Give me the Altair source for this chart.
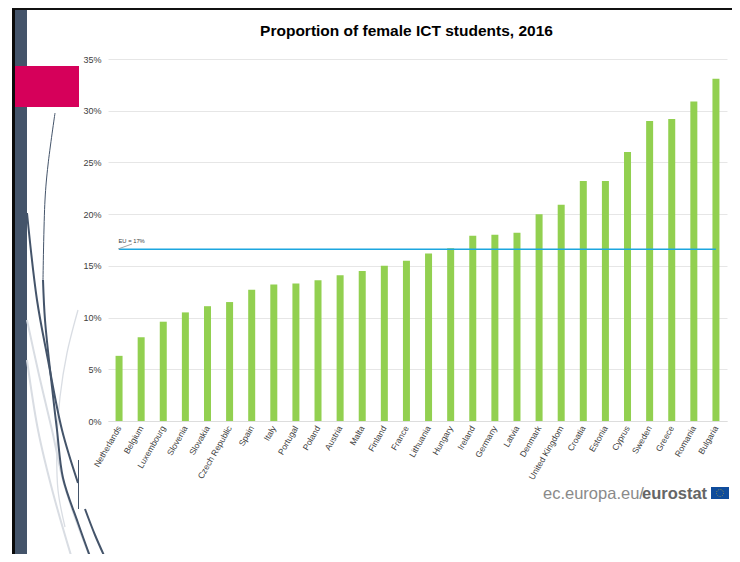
import altair as alt
import pandas as pd

countries = ["Netherlands","Belgium","Luxembourg","Slovenia","Slovakia","Czech Republic","Spain","Italy","Portugal","Poland","Austria","Malta","Finland","France","Lithuania","Hungary","Ireland","Germany","Latvia","Denmark","United Kingdom","Croatia","Estonia","Cyprus","Sweden","Greece","Romania","Bulgaria"]
shares = [6.3,8.1,9.6,10.5,11.1,11.5,12.7,13.2,13.3,13.6,14.1,14.5,15.0,15.5,16.2,16.7,17.9,18.0,18.2,20.0,20.9,23.2,23.2,26.0,29.0,29.2,30.9,33.1]
eu_value = 16.6
eu_ends = ["Netherlands","Bulgaria"]

FONT = "Liberation Sans"
DARK = "#44546A"
LIGHT = "#D9DDE3"

# decorative curves of the slide background: (x, y) on the page
curve_a1 = [(27,213),(37,300),(48,360),(62,430),(78,483)]
curve_a2 = [(85,509),(95,535),(107,562)]
curve_b1 = [(55,113),(48,165),(45,200),(43,280)]
curve_b2 = [(43,280),(45,320),(52,387),(57,430),(63,478),(78,523),(92,562)]
curve_l1 = [(27,320),(39,375),(52,430),(63,480),(77,523),(92,562)]
curve_l2 = [(27,360),(38,430),(53,493),(73,562)]
curve_l3 = [(78,310),(67,353),(60,397),(57,440),(58,490),(65,527)]
sliver = [(78.5,460),(78.5,509)]
eu_leader = [(118,249),(132,244)]
top_line = [(12,9),(740,9)]

X_PAGE = alt.Scale(domain=[108,727], range=[0,619])
Y_PAGE = alt.Scale(domain=[59,421], range=[0,362])

def frame(points):
    return pd.DataFrame(points, columns=["px","py"]).assign(o=range(len(points)))

def path(points, color, width):
    return alt.Chart(frame(points)).mark_line(color=color, strokeWidth=width, clip=False, interpolate="catmull-rom").encode(
        x=alt.X("px:Q", scale=X_PAGE, axis=None),
        y=alt.Y("py:Q", scale=Y_PAGE, axis=None),
        order="o:Q")

def box(x0, x1, y0, y1, color):
    d = pd.DataFrame({"a":[x0],"b":[x1],"c":[y0],"d":[y1]})
    return alt.Chart(d).mark_rect(color=color, clip=False).encode(
        x=alt.X("a:Q", scale=X_PAGE, axis=None), x2="b:Q",
        y=alt.Y("c:Q", scale=Y_PAGE, axis=None), y2="d:Q")

def label(x, y, s, size, color, weight="normal", align="left"):
    d = pd.DataFrame({"px":[x],"py":[y],"s":[s]})
    return alt.Chart(d).mark_text(align=align, baseline="alphabetic", fontSize=size, color=color, fontWeight=weight, font=FONT).encode(
        x=alt.X("px:Q", scale=X_PAGE, axis=None),
        y=alt.Y("py:Q", scale=Y_PAGE, axis=None),
        text="s:N")

bars_df = pd.DataFrame({"country":countries,"share":shares})
X_BAND = alt.Scale(domain=countries, paddingInner=0, paddingOuter=0)
Y_VAL = alt.Scale(domain=[0,35], nice=False)

bars = alt.Chart(bars_df).mark_bar(color="#92D050", width=7).encode(
    x=alt.X("country:N", sort=None, scale=X_BAND, title=None,
            axis=alt.Axis(labelAngle=300, labelAlign="right", labelBaseline="middle", labelFontSize=8.5,
                          labelFont=FONT, labelColor="#404040", labelPadding=5, ticks=False,
                          domainColor="#DDDDDD", labelOverlap=False, grid=False)),
    y=alt.Y("share:Q", scale=Y_VAL, title=None,
            axis=alt.Axis(values=[0,5,10,15,20,25,30,35], labelExpr="datum.value + '%'", labelFontSize=9,
                          labelFont=FONT, labelColor="#404040", labelPadding=7, ticks=False, domain=False,
                          grid=True, gridColor="#E6E6E6", gridWidth=1)))

eu_line = alt.Chart(pd.DataFrame({"country":eu_ends,"share":[eu_value,eu_value]})).mark_line(color="#1CA6DF", strokeWidth=1.6).encode(
    x=alt.X("country:N", sort=None, scale=X_BAND, axis=None),
    y=alt.Y("share:Q", scale=Y_VAL, axis=None))

stars = alt.Chart(pd.DataFrame({"px":[720],"py":[493]})).mark_point(shape="circle", size=50, color="#C9B32E", strokeWidth=1, strokeDash=[1,1.4], filled=False).encode(
    x=alt.X("px:Q", scale=X_PAGE, axis=None),
    y=alt.Y("py:Q", scale=Y_PAGE, axis=None))

layers = [
    bars,
    path(top_line, "#111111", 2),
    box(12,15,9,562,"#0A0A0A"),
    box(15,27,10,562,DARK),
    path(curve_l2, LIGHT, 2),
    path(curve_l1, LIGHT, 2),
    path(curve_l3, LIGHT, 1.3),
    path(curve_b1, DARK, 1),
    path(curve_b2, DARK, 2),
    path(curve_a1, DARK, 2),
    path(curve_a2, DARK, 2),
    path(sliver, DARK, 1),
    box(15,79,66,107,"#D6005A"),
    eu_line,
    path(eu_leader, "#999999", 0.9),
    label(118.5,242.5,"EU = 17%",5.8,"#404040"),
    label(543,499,"ec.europa.eu/",16.5,"#8A8A8A"),
    label(642,499,"eurostat",16.5,"#666666","bold"),
    box(711,729,487,499,"#0F4C9C"),
    stars,
    label(406.5,36,"Proportion of female ICT students, 2016",15.5,"#000000","bold","center"),
]

chart = alt.layer(*layers).resolve_scale(x="independent", y="independent").properties(
    width=619, height=362,
    autosize=alt.AutoSizeParams(type="none"),
    padding={"left":100,"top":51,"right":5,"bottom":133},
).configure_view(stroke=None).configure_axis(grid=False)

chart.save("out.html", embed_options={"renderer":"svg","actions":False})
